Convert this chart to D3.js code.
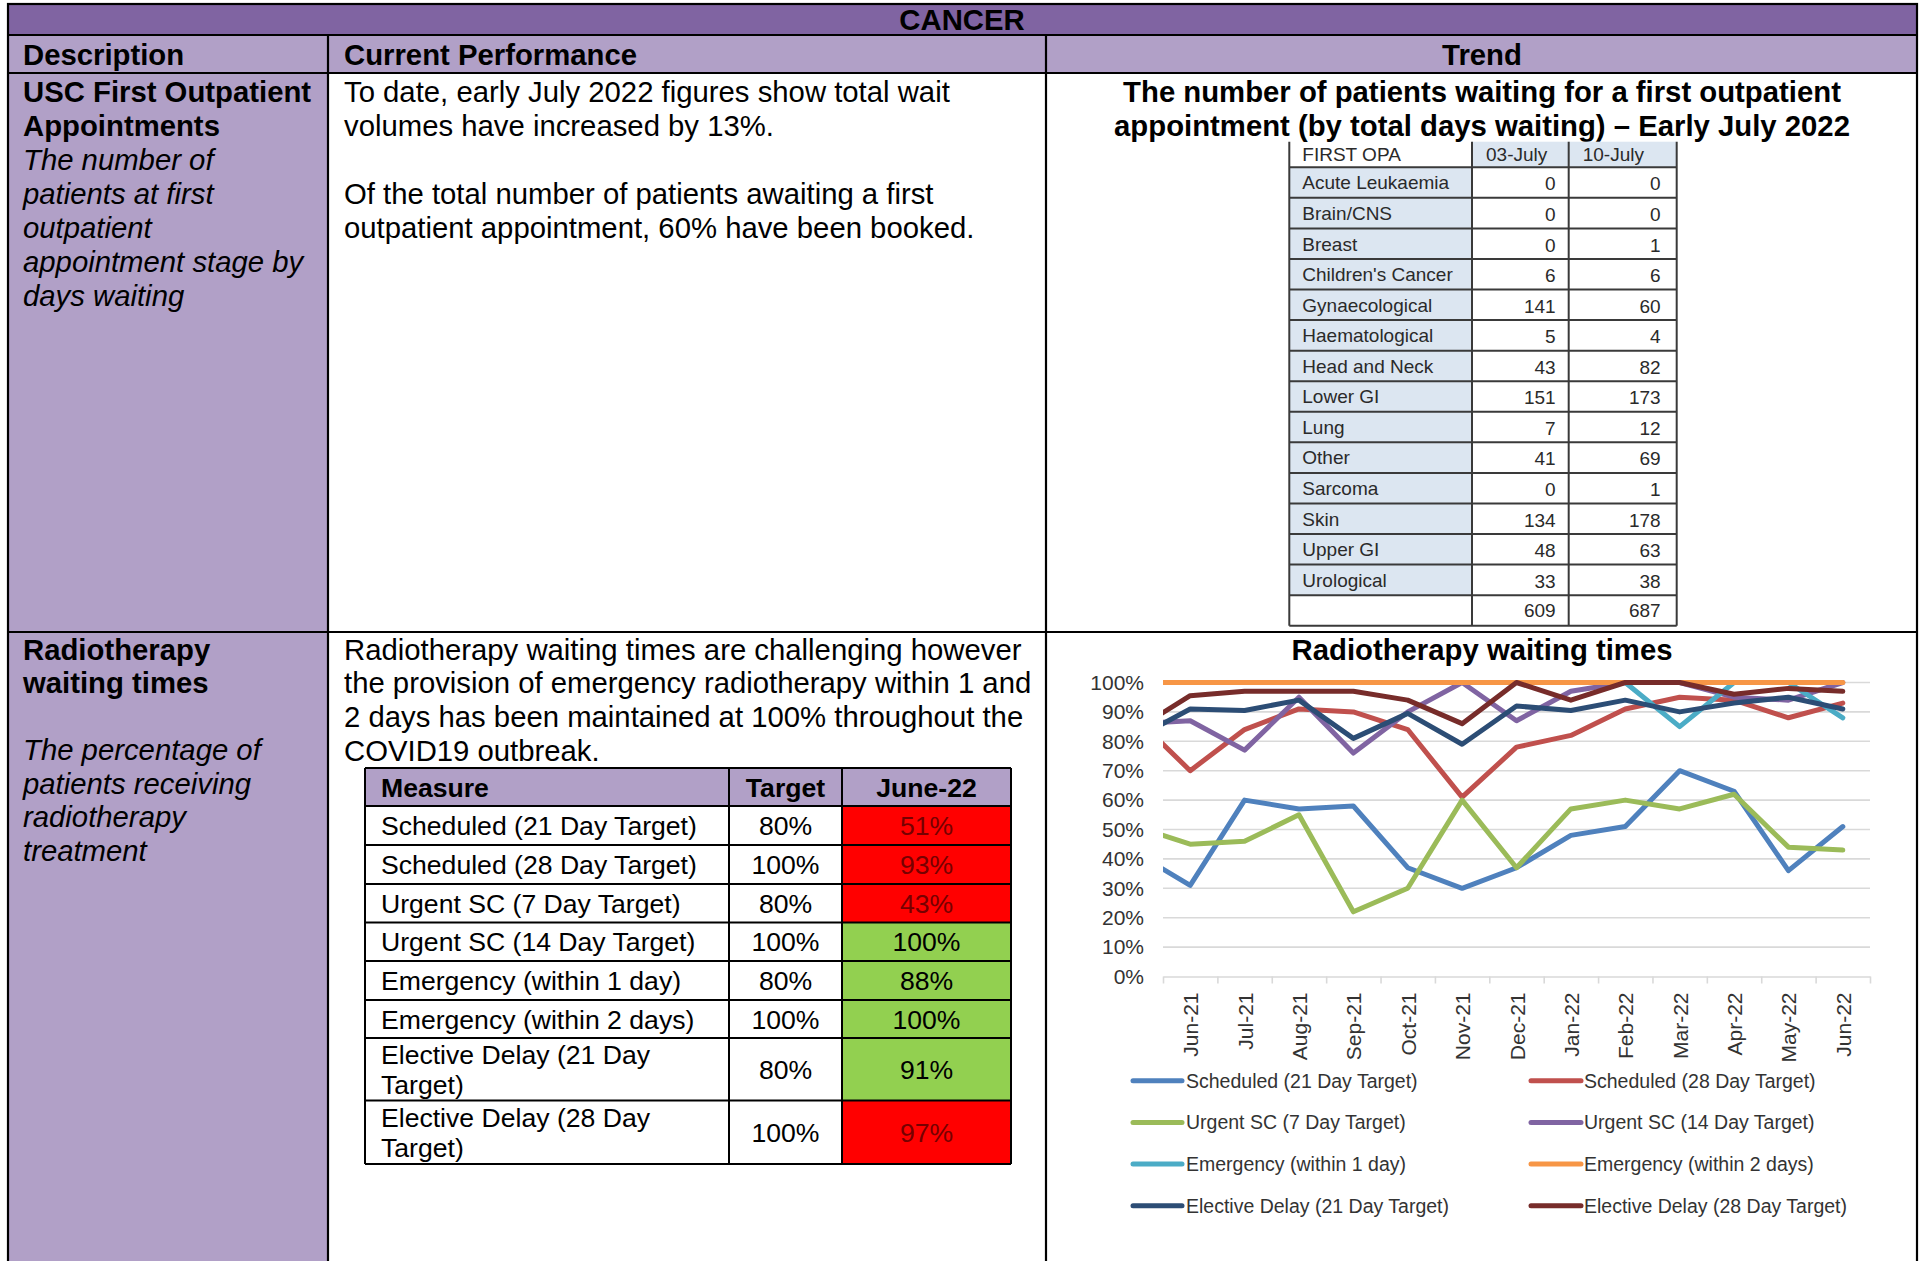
<!DOCTYPE html>
<html>
<head>
<meta charset="utf-8">
<script src="https://cdn.jsdelivr.net/npm/d3@7"></script>
<style>
  html, body { margin: 0; padding: 0; background: #fff; }
  svg { display: block; }
  text { font-family: "Liberation Sans", Arial, sans-serif; }
</style>
</head>
<body>
<svg id="page" width="1919" height="1261"></svg>
<script>
// ---------------- DATA ----------------
const opaCategories = ["Acute Leukaemia","Brain/CNS","Breast","Children's Cancer","Gynaecological","Haematological","Head and Neck","Lower GI","Lung","Other","Sarcoma","Skin","Upper GI","Urological"];
const opaJuly03 = [0,0,0,6,141,5,43,151,7,41,0,134,48,33];
const opaJuly10 = [0,0,1,6,60,4,82,173,12,69,1,178,63,38];
const opaTotals = [609, 687];
const opaHeaders = ["FIRST OPA","03-July","10-July"];

const measures = ["Scheduled (21 Day Target)","Scheduled (28 Day Target)","Urgent SC (7 Day Target)","Urgent SC (14 Day Target)","Emergency (within 1 day)","Emergency (within 2 days)","Elective Delay (21 Day Target)","Elective Delay (28 Day Target)"];
const measureTargets = ["80%","100%","80%","100%","80%","100%","80%","100%"];
const measureJune22 = ["51%","93%","43%","100%","88%","100%","91%","97%"];
const measureMet = [false,false,false,true,true,true,true,false];

const months = ["Jun-21","Jul-21","Aug-21","Sep-21","Oct-21","Nov-21","Dec-21","Jan-22","Feb-22","Mar-22","Apr-22","May-22","Jun-22"];
const yTicks = [0,0.1,0.2,0.3,0.4,0.5,0.6,0.7,0.8,0.9,1.0];
// percentage values per month (Jun-21 .. Jun-22)
const scheduled21 = [31,60,57,58,37,30,37,48,51,70,63,36,51];
const scheduled28 = [70,84,91,90,84,61,78,82,91,95,94,88,93];
const urgent7     = [45,46,55,22,30,60,37,57,60,57,62,44,43];
const urgent14    = [87,77,95,76,90,100,87,97,100,100,95,94,100];
const emergency1  = [100,100,100,100,100,100,100,100,100,85,100,100,88];
const emergency2  = [100,100,100,100,100,100,100,100,100,100,100,100,100];
const elective21  = [91,90.5,94,81,89.5,79,92,90.5,94,90,93,95,91];
const elective28  = [95.5,97,97,97,94,86,100,94,100,100,96,98,97];
// previous month (May-21), only visible as the clipped segment at the plot's left edge
const priorMonth  = [42,88,51,86,100,100,81,84];

// ---------------- STYLE ----------------
const purpleDark = "#8064a2", purpleLight = "#b1a0c7";
const seriesColors = ["#4f81bd","#c0504d","#9bbb59","#8064a2","#4bacc6","#f79646","#2c4d75","#772c2a"];

const svg = d3.select("#page");

// ---------------- FRAME ----------------
const L = 8, R = 1917, T = 4, B = 1261;
const col1 = 328, col2 = 1046;
const hdrTop = 35, hdrBot = 73, row1Bot = 632;

svg.append("rect").attr("x", L).attr("y", T).attr("width", R - L).attr("height", hdrTop - T).attr("fill", purpleDark);
svg.append("rect").attr("x", L).attr("y", hdrTop).attr("width", R - L).attr("height", hdrBot - hdrTop).attr("fill", purpleLight);
svg.append("rect").attr("x", L).attr("y", hdrBot).attr("width", col1 - L).attr("height", B - hdrBot).attr("fill", purpleLight);

const frame = svg.append("g").attr("stroke", "#000").attr("stroke-width", 2.2);
frame.append("rect").attr("x", L).attr("y", T).attr("width", R - L).attr("height", B - T + 10).attr("fill", "none");
[[L, hdrTop, R, hdrTop],[L, hdrBot, R, hdrBot],[L, row1Bot, R, row1Bot],
 [col1, hdrTop, col1, B + 5],[col2, hdrTop, col2, B + 5]].forEach(l =>
  frame.append("line").attr("x1", l[0]).attr("y1", l[1]).attr("x2", l[2]).attr("y2", l[3]));

function txt(x, y, s, opts = {}) {
  return svg.append("text").attr("x", x).attr("y", y).text(s)
    .attr("font-size", opts.size || 29.3)
    .attr("font-weight", opts.bold ? "bold" : null)
    .attr("font-style", opts.italic ? "italic" : null)
    .attr("text-anchor", opts.anchor || "start")
    .attr("fill", opts.fill || "#000")
    .attr("font-family", opts.family || null);
}

txt(962, 30, "CANCER", {bold: true, anchor: "middle"});
txt(23, 65, "Description", {bold: true});
txt(344, 65, "Current Performance", {bold: true});
txt(1482, 65, "Trend", {bold: true, anchor: "middle"});

// Row 1 description
const lh = 33.9;
[["USC First Outpatient", true],["Appointments", true],["The number of", false],["patients at first", false],
 ["outpatient", false],["appointment stage by", false],["days waiting", false]].forEach((d, i) =>
  txt(23, 102.3 + i * lh, d[0], {bold: d[1], italic: !d[1]}));

// Row 1 current performance
txt(344, 102.3, "To date, early July 2022 figures show total wait");
txt(344, 102.3 + lh, "volumes have increased by 13%.");
txt(344, 102.3 + 3 * lh, "Of the total number of patients awaiting a first");
txt(344, 102.3 + 4 * lh, "outpatient appointment, 60% have been booked.");

// Row 1 trend title
txt(1482, 102.3, "The number of patients waiting for a first outpatient", {bold: true, anchor: "middle"});
txt(1482, 102.3 + lh, "appointment (by total days waiting) \u2013 Early July 2022", {bold: true, anchor: "middle"});

// ---------------- FIRST OPA TABLE ----------------
(function () {
  const xs = [1289.3, 1472, 1568.7, 1676.7];
  const top = 141.7, hdrB = 167.3;
  const rowH = (625.7 - hdrB) / 15;
  const g = svg.append("g");
  const fam = "Carlito, Lato, 'Noto Sans', sans-serif";
  const fs = 19;
  g.append("rect").attr("x", xs[1]).attr("y", top).attr("width", xs[3] - xs[1]).attr("height", hdrB - top).attr("fill", "#dce6f1");
  g.append("rect").attr("x", xs[0]).attr("y", hdrB).attr("width", xs[1] - xs[0]).attr("height", rowH * 14).attr("fill", "#dce6f1");
  const rowsY = d3.range(16).map(i => hdrB + i * rowH);
  const lines = g.append("g").attr("stroke", "#3a3a3a").attr("stroke-width", 2);
  rowsY.forEach(y => lines.append("line").attr("x1", xs[0]).attr("x2", xs[3]).attr("y1", y).attr("y2", y));
  xs.forEach(x => lines.append("line").attr("x1", x).attr("x2", x).attr("y1", top).attr("y2", rowsY[15]));
  const tc = "#2a2a2a";
  const t = (x, y, s, anchor) => g.append("text").attr("x", x).attr("y", y).attr("dy", "0.36em").text(s)
      .attr("font-family", fam).attr("font-size", fs).attr("fill", tc).attr("text-anchor", anchor || "start");
  const hy = (top + hdrB) / 2;
  t(xs[0] + 13, hy, opaHeaders[0]);
  t(xs[1] + 14, hy, opaHeaders[1]);
  t(xs[2] + 14, hy, opaHeaders[2]);
  opaCategories.forEach((c, i) => {
    const cy = rowsY[i] + rowH / 2;
    t(xs[0] + 13, cy, c);
    t(xs[2] - 13, cy + 1, opaJuly03[i], "end");
    t(xs[3] - 16, cy + 1, opaJuly10[i], "end");
  });
  const ty = rowsY[14] + rowH / 2;
  t(xs[2] - 13, ty, opaTotals[0], "end");
  t(xs[3] - 16, ty, opaTotals[1], "end");
})();

// ---------------- ROW 2 TEXT ----------------
const lh2 = 33.7;
txt(23, 659.5, "Radiotherapy", {bold: true});
txt(23, 659.5 + lh2, "waiting times", {bold: true});
["The percentage of","patients receiving","radiotherapy","treatment"].forEach((s, i) =>
  txt(23, 760 + i * lh2, s, {italic: true}));

["Radiotherapy waiting times are challenging however",
 "the provision of emergency radiotherapy within 1 and",
 "2 days has been maintained at 100% throughout the",
 "COVID19 outbreak."].forEach((s, i) => txt(344, 659.5 + i * lh2, s));

// ---------------- MEASURE TABLE ----------------
(function () {
  const xs = [365, 729, 842, 1011];
  const ys = [768, 806, 845, 884, 922.5, 961, 1000, 1038, 1100.5, 1164];
  const g = svg.append("g");
  const fs = 26.6;
  g.append("rect").attr("x", xs[0]).attr("y", ys[0]).attr("width", xs[3] - xs[0]).attr("height", ys[1] - ys[0]).attr("fill", purpleLight);
  measures.forEach((m, i) => {
    g.append("rect").attr("x", xs[2]).attr("y", ys[i + 1]).attr("width", xs[3] - xs[2]).attr("height", ys[i + 2] - ys[i + 1])
      .attr("fill", measureMet[i] ? "#92d050" : "#ff0000");
  });
  const lines = g.append("g").attr("stroke", "#000").attr("stroke-width", 2);
  ys.forEach(y => lines.append("line").attr("x1", xs[0]).attr("x2", xs[3]).attr("y1", y).attr("y2", y));
  xs.forEach(x => lines.append("line").attr("x1", x).attr("x2", x).attr("y1", ys[0]).attr("y2", ys[9]));
  const t = (x, y, s, o = {}) => g.append("text").attr("x", x).attr("y", y).attr("dy", "0.36em").text(s)
      .attr("font-size", fs).attr("font-weight", o.bold ? "bold" : null)
      .attr("text-anchor", o.anchor || "start").attr("fill", o.fill || "#000");
  const hy = (ys[0] + ys[1]) / 2;
  t(xs[0] + 16, hy, "Measure", {bold: true});
  t((xs[1] + xs[2]) / 2, hy, "Target", {bold: true, anchor: "middle"});
  t((xs[2] + xs[3]) / 2, hy, "June-22", {bold: true, anchor: "middle"});
  measures.forEach((m, i) => {
    const cy = (ys[i + 1] + ys[i + 2]) / 2;
    if (i >= 6) {
      const k = m.lastIndexOf(" ");
      t(xs[0] + 16, cy - 14.7, m.slice(0, k));
      t(xs[0] + 16, cy + 14.7, m.slice(k + 1));
    } else {
      t(xs[0] + 16, cy, m);
    }
    t((xs[1] + xs[2]) / 2, cy, measureTargets[i], {anchor: "middle"});
    t((xs[2] + xs[3]) / 2, cy, measureJune22[i], {anchor: "middle", fill: measureMet[i] ? "#000" : "#760000"});
  });
})();

// ---------------- LINE CHART ----------------
txt(1482, 659.5, "Radiotherapy waiting times", {bold: true, anchor: "middle"});

const plot = {left: 1163, right: 1870, top: 682.5, bottom: 976.5};
const x = d3.scaleLinear().domain([-0.5, months.length - 0.5]).range([plot.left, plot.right]);
const y = d3.scaleLinear().domain([0, 1]).range([plot.bottom, plot.top]);

const chart = svg.append("g");
chart.append("g").selectAll("line").data(yTicks.filter(v => v > 0)).join("line")
  .attr("x1", plot.left).attr("x2", plot.right)
  .attr("y1", d => y(d)).attr("y2", d => y(d))
  .attr("stroke", "#d9d9d9").attr("stroke-width", 1.6);

const yAxis = chart.append("g").attr("transform", `translate(${plot.left},0)`)
  .call(d3.axisLeft(y).tickValues(yTicks).tickFormat(d3.format(".0%")).tickSize(0).tickPadding(19));
yAxis.select(".domain").remove();
yAxis.selectAll("text").attr("font-size", 21).attr("fill", "#333").attr("font-family", "'Liberation Sans', Arial, sans-serif");

const xTickAxis = chart.append("g").attr("transform", `translate(0,${plot.bottom})`)
  .call(d3.axisBottom(x).tickValues(d3.range(-0.5, months.length, 1)).tickFormat("").tickSize(7).tickSizeOuter(0));
xTickAxis.selectAll("line, path").attr("stroke", "#d9d9d9").attr("stroke-width", 1.6);

const xLab = chart.append("g").attr("transform", `translate(0,${plot.bottom})`)
  .call(d3.axisBottom(x).tickValues(d3.range(months.length)).tickFormat(i => months[i]).tickSize(0));
xLab.select(".domain").remove();
xLab.selectAll("text")
  .attr("transform", "rotate(-90)")
  .attr("x", -16).attr("y", 0).attr("dy", "0.36em")
  .attr("text-anchor", "end")
  .attr("font-size", 21).attr("fill", "#333").attr("font-family", "'Liberation Sans', Arial, sans-serif");

const seriesNames = ["Scheduled (21 Day Target)","Scheduled (28 Day Target)","Urgent SC (7 Day Target)","Urgent SC (14 Day Target)","Emergency (within 1 day)","Emergency (within 2 days)","Elective Delay (21 Day Target)","Elective Delay (28 Day Target)"];
const seriesValues = [scheduled21, scheduled28, urgent7, urgent14, emergency1, emergency2, elective21, elective28];

svg.append("defs").append("clipPath").attr("id", "plotClip")
  .append("rect").attr("x", plot.left).attr("y", plot.top - 12)
  .attr("width", plot.right - plot.left + 12).attr("height", plot.bottom - plot.top + 24);

const line = d3.line().x(d => x(d[0])).y(d => y(d[1] / 100));
const lineG = chart.append("g").attr("clip-path", "url(#plotClip)");
seriesValues.forEach((vals, si) => {
  const pts = [[-1, priorMonth[si]]].concat(vals.map((v, i) => [i, v]));
  lineG.append("path").datum(pts).attr("d", line)
    .attr("fill", "none").attr("stroke", seriesColors[si]).attr("stroke-width", 5)
    .attr("stroke-linejoin", "round").attr("stroke-linecap", "round");
});

const legendRows = [1080.7, 1122.4, 1164, 1205.7];
const legendCols = [{x1: 1133, x2: 1182, tx: 1186}, {x1: 1531, x2: 1581, tx: 1584}];
const legend = chart.append("g");
seriesNames.forEach((n, i) => {
  const c = legendCols[i % 2], ry = legendRows[Math.floor(i / 2)];
  legend.append("line").attr("x1", c.x1).attr("x2", c.x2).attr("y1", ry).attr("y2", ry)
    .attr("stroke", seriesColors[i]).attr("stroke-width", 5).attr("stroke-linecap", "round");
  legend.append("text").attr("x", c.tx).attr("y", ry).attr("dy", "0.36em").text(n)
    .attr("font-size", 19.5).attr("fill", "#333");
});
</script>
</body>
</html>
